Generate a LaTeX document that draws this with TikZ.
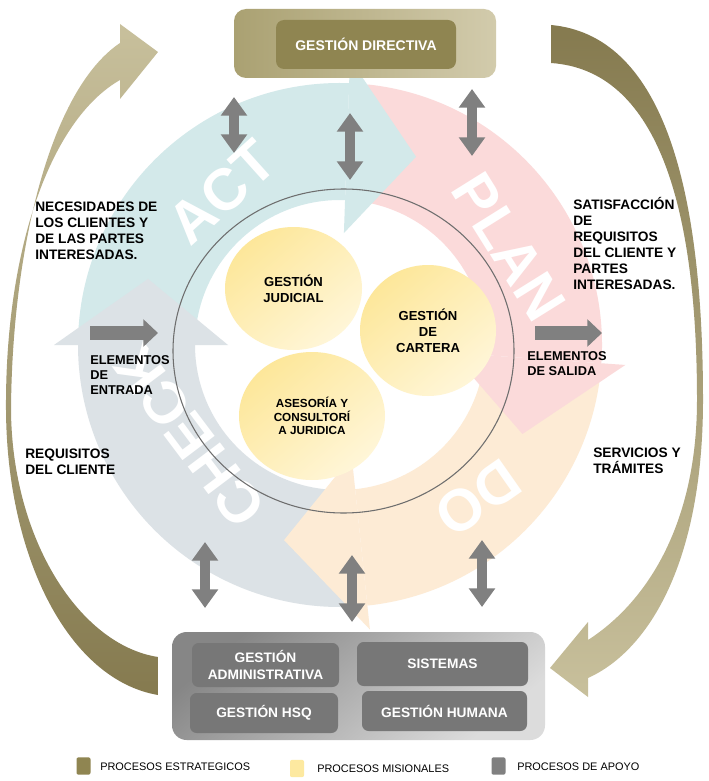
\documentclass[tikz,border=0pt]{standalone}
\usepackage{fontspec}
\setmainfont{Liberation Sans}
\usetikzlibrary{shapes.geometric,arrows.meta}
\definecolor{actc}{HTML}{D3E9EA}
\definecolor{planc}{HTML}{FBDADA}
\definecolor{doc}{HTML}{FDEBD5}
\definecolor{checkc}{HTML}{DCE2E6}
\definecolor{olivedk}{HTML}{857A4F}
\definecolor{olivelt}{HTML}{C8C09C}
\definecolor{oliveinner}{HTML}{8F8551}
\definecolor{dirA}{HTML}{AAA172}
\definecolor{dirB}{HTML}{D2CBAC}
\definecolor{yelA}{HTML}{FDE79A}
\definecolor{yelB}{HTML}{FFF6D8}
\definecolor{apgrey}{HTML}{777777}
\definecolor{arrgrey}{HTML}{808080}
\definecolor{botA}{HTML}{868686}
\definecolor{botB}{HTML}{DCDCDC}
\definecolor{legyel}{HTML}{FDE9A0}
\definecolor{circline}{HTML}{6E6E6E}
\begin{document}
\begin{tikzpicture}[x=0.75pt,y=-0.75pt,
  pdcatext/.style={text=white, font=\bfseries\fontsize{44}{44}\selectfont, inner sep=0pt},
  blk/.style={font=\bfseries\fontsize{10.3}{12}\selectfont, align=left, anchor=west, inner sep=0pt},
  elem/.style={font=\bfseries\fontsize{9.6}{11.2}\selectfont, align=left, anchor=west, inner sep=0pt},
  mis/.style={ellipse, inner sep=0pt, top color=yelA, bottom color=yelB, shading angle=40, align=center, font=\bfseries\fontsize{9.8}{12}\selectfont},
  apoyo/.style={rectangle, rounded corners=5pt, fill=apgrey, text=white, align=center, inner sep=0pt, font=\bfseries\fontsize{10.3}{12.5}\selectfont},
  dbl/.style={draw=arrgrey, line width=8pt, {Triangle[width=19pt,length=14pt]}-{Triangle[width=19pt,length=14pt]}},
  sarr/.style={draw=arrgrey, line width=10pt, -{Triangle[width=20pt,length=11pt]}},
  leg/.style={font=\fontsize{8.2}{10}\selectfont, anchor=west, inner sep=0pt},
  legbox/.style={rounded corners=1.5pt, minimum width=10.5pt, minimum height=13pt, inner sep=0pt}
]
\useasboundingbox (0,0) rectangle (709,781);
\fill[white] (0,0) rectangle (709,781);

% ---------- PDCA watermark ring ----------
\begin{scope}[shift={(340,345)}]
  % bodies
  \fill[actc] (-178:262) arc[start angle=-178, end angle=-88, radius=262] -- (-88:145) arc[start angle=-88, end angle=-178, radius=145] -- cycle;
  \fill[planc] (-84:262) arc[start angle=-84, end angle=4, radius=262] -- (4:145) arc[start angle=4, end angle=-84, radius=145] -- cycle;
  \fill[doc] (6:262) arc[start angle=6, end angle=84, radius=262] -- (84:145) arc[start angle=84, end angle=6, radius=145] -- cycle;
  \fill[checkc] (86:262) arc[start angle=86, end angle=180, radius=262] -- (180:145) arc[start angle=180, end angle=86, radius=145] -- cycle;
  % heads
  \fill[actc] (-88:286) -- (-68:203) -- (-88:112) -- cycle;
  \fill[planc] (4:286) -- (26:203) -- (4:112) -- cycle;
  \fill[doc] (84:286) -- (106:203) -- (84:112) -- cycle;
  \fill[checkc] (180:286) -- (199:203) -- (180:112) -- cycle;
\end{scope}
\node[pdcatext, rotate=42] (act) at (222,192) {ACT};
\node[pdcatext, rotate=-58] (plan) at (509,247) {PLAN};
\node[pdcatext, rotate=-145] (do) at (478,498) {DO};
\node[pdcatext, rotate=127] (check) at (190,436) {CHECK};

% ---------- big curved arrows ----------
\shade[top color=olivelt, bottom color=olivedk]
  (158,695) .. controls (70,680) and (7,560) .. (6,410)
  .. controls (5,250) and (50,120) .. (120,80)
  -- (120,99) -- (158,52) -- (120,24) -- (120,43)
  .. controls (50,90) and (12,250) .. (11,410)
  .. controls (12,540) and (80,645) .. (158,657) -- cycle;
\shade[top color=olivedk, bottom color=olivelt]
  (551,25) .. controls (660,35) and (703,180) .. (703,400)
  .. controls (703,560) and (650,650) .. (588,678)
  -- (588,697) -- (550,668) -- (588,622) -- (588,640)
  .. controls (650,600) and (697,520) .. (697,400)
  .. controls (697,200) and (655,70) .. (551,63) -- cycle;

% ---------- central circle and missional processes ----------
\draw[circline, line width=0.8pt] (343.5,351) ellipse [x radius=170.5, y radius=162];
\node[mis, minimum width=102.75pt, minimum height=92.25pt] (judicial) at (293.5,288.5) {GESTIÓN\\JUDICIAL};
\node[mis, minimum width=102pt, minimum height=98.25pt] (cartera) at (428,330.5) {GESTIÓN\\DE\\CARTERA};
\node[mis, minimum width=109.5pt, minimum height=96pt, font=\bfseries\fontsize{8.8}{10.2}\selectfont] (asesoria) at (312,416) {ASESORÍA Y\\CONSULTORÍ\\A JURIDICA};

% ---------- side texts ----------
\node[blk] (necesidades) at (35,231) {NECESIDADES DE\\LOS CLIENTES Y\\DE LAS PARTES\\INTERESADAS.};
\node[blk] (satisfaccion) at (573,243) {SATISFACCIÓN\\DE\\REQUISITOS\\DEL CLIENTE Y\\PARTES\\INTERESADAS.};
\node[blk] (requisitos) at (25,462) {REQUISITOS\\DEL CLIENTE};
\node[blk] (servicios) at (593,461) {SERVICIOS Y\\TRÁMITES};
\node[elem] (entrada) at (90,375) {ELEMENTOS\\DE\\ENTRADA};
\node[elem] (salida) at (527,364) {ELEMENTOS\\DE SALIDA};

% ---------- strategic box ----------
\node[rounded corners=9pt, left color=dirA, right color=dirB, minimum width=196.5pt, minimum height=51.75pt, inner sep=0pt] (dirout) at (365,43.5) {};
\node[rounded corners=6pt, fill=oliveinner, minimum width=135pt, minimum height=36.75pt, inner sep=0pt, text=white, font=\bfseries\fontsize{10.5}{12}\selectfont] (directiva) at (366,44.5) {GESTIÓN DIRECTIVA};

% ---------- support box ----------
\node[rounded corners=11pt, top color=botA, bottom color=botB, shading angle=40, minimum width=279.75pt, minimum height=81pt, inner sep=0pt] (apoyobox) at (358.5,686) {};
\node[apoyo, minimum width=110.25pt, minimum height=33pt] (adm) at (265.5,665) {GESTIÓN\\ADMINISTRATIVA};
\node[apoyo, minimum width=128.25pt, minimum height=33pt] (sis) at (442.5,664) {SISTEMAS};
\node[apoyo, minimum width=111pt, minimum height=30pt] (hsq) at (264,713) {GESTIÓN HSQ};
\node[apoyo, minimum width=123.75pt, minimum height=30pt] (hum) at (444.5,711) {GESTIÓN HUMANA};

% ---------- double arrows ----------
\coordinate (ta1) at (234,97);  \coordinate (tb1) at (234,153);
\coordinate (ta2) at (350,113); \coordinate (tb2) at (350,180);
\coordinate (ta3) at (472,89);  \coordinate (tb3) at (472,156);
\coordinate (ba1) at (205,542); \coordinate (bb1) at (205,608);
\coordinate (ba2) at (352,555); \coordinate (bb2) at (352,622);
\coordinate (ba3) at (482,540); \coordinate (bb3) at (482,607);
\draw[dbl] (ta1) -- (tb1);
\draw[dbl] (ta2) -- (tb2);
\draw[dbl] (ta3) -- (tb3);
\draw[dbl] (ba1) -- (bb1);
\draw[dbl] (ba2) -- (bb2);
\draw[dbl] (ba3) -- (bb3);

% ---------- input / output arrows ----------
\coordinate (inA) at (90,333);  \coordinate (inB) at (158,333);
\coordinate (outA) at (535,333); \coordinate (outB) at (602,333);
\draw[sarr] (inA) -- (inB);
\draw[sarr] (outA) -- (outB);

% ---------- legend ----------
\node[legbox, fill=oliveinner] (l1) at (83.5,766) {};
\node[leg] (l1t) at (100,767) {PROCESOS ESTRATEGICOS};
\node[legbox, fill=legyel] (l2) at (297,768.5) {};
\node[leg] (l2t) at (317,769) {PROCESOS MISIONALES};
\node[legbox, fill=arrgrey] (l3) at (498.5,766) {};
\node[leg] (l3t) at (517,767) {PROCESOS DE APOYO};
\end{tikzpicture}
\end{document}
